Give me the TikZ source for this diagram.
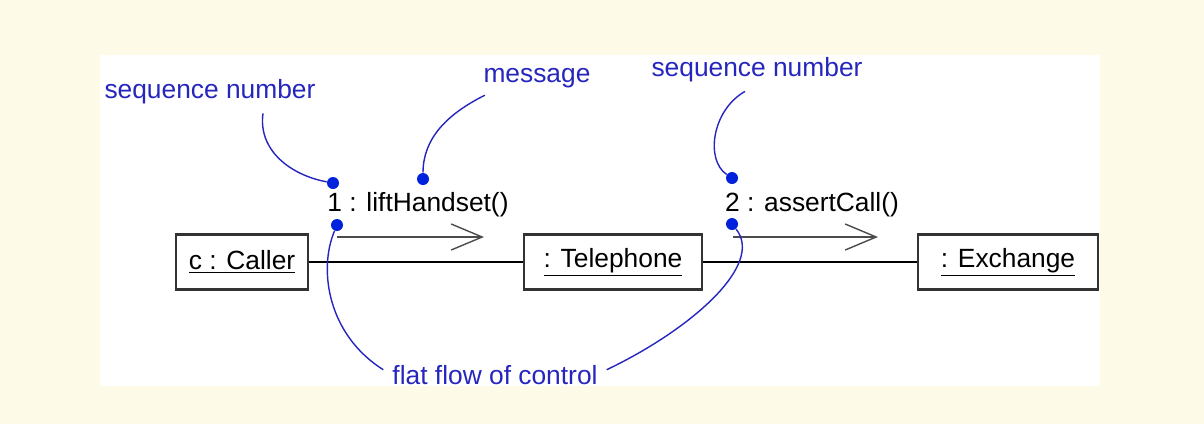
\documentclass[tikz,border=0pt]{standalone}
\usepackage{fontspec}
\setmainfont{Liberation Sans}
\usepackage{tikz}
\usepackage{xcolor}
\usetikzlibrary{arrows.meta}
\definecolor{cream}{RGB}{254,250,232}
\definecolor{notecol}{RGB}{38,38,190}
\definecolor{dotcol}{RGB}{0,34,221}
\newcommand{\objname}[1]{\raisebox{-3pt}{\underline{#1}}}
\tikzset{
    object-box/.style = {draw=black!80, fill=white, line width=1.3pt, rectangle, minimum height=1.1cm, font=\fontsize{15}{18}\selectfont},
    msg-text/.style = {font=\fontsize{15}{18}\selectfont, inner sep=1pt},
    msg-arrow/.style = {draw=black!70, line width=0.7pt, -{Straight Barb[length=0.62cm,width=0.52cm,line width=0.8pt]}},
    note-text/.style = {text=notecol, font=\fontsize{15}{18}\selectfont, inner sep=1pt},
    note-dot/.style = {circle, fill=dotcol, inner sep=0pt, minimum size=0.24cm},
    note-line/.style = {draw=notecol, line width=0.8pt},
}

\begin{document}
\begin{tikzpicture}[x=0.02cm, y=-0.02cm]
\fill[cream] (0,0) rectangle (1204,424);
\fill[white] (100,55) rectangle (1100,386);
\useasboundingbox (0,0) rectangle (1204,424);

% objects and links
\node[object-box, minimum width=2.64cm] (caller) at (242,262) {\objname{c : Caller}};
\node[object-box, minimum width=3.56cm] (phone) at (613,262) {\objname{: Telephone}};
\node[object-box, minimum width=3.6cm] (exchange) at (1008,262) {\objname{: Exchange}};
\draw[line width=0.8pt] (caller) -- (phone);
\draw[line width=0.8pt] (phone) -- (exchange);

% messages
\node[msg-text] (lift) at (418,205) {1 : liftHandset()};
\node[msg-text] (assert) at (812,205) {2 : assertCall()};
\coordinate (lift-from) at (337,237);
\coordinate (lift-to) at (484,237);
\coordinate (assert-from) at (733,237);
\coordinate (assert-to) at (878,237);
\draw[msg-arrow] (lift-from) -- (lift-to);
\draw[msg-arrow] (assert-from) -- (assert-to);

% notes
\node[note-text] (seq-note-a) at (210,92) {sequence number};
\node[note-text] (msg-note) at (537,78) {message};
\node[note-text] (seq-note-b) at (757,70) {sequence number};
\node[note-text] (flow-note) at (495,375) {flat flow of control};

\node[note-dot] (seq-dot-a) at (333,183) {};
\node[note-dot] (msg-dot) at (423,179) {};
\node[note-dot] (flow-dot-a) at (337,225) {};
\node[note-dot] (seq-dot-b) at (732,178) {};
\node[note-dot] (flow-dot-b) at (732,224) {};

\draw[note-line] ([xshift=1.06cm,yshift=-4pt]seq-note-a.south) .. controls (258,150) and (290,175) .. (seq-dot-a);
\draw[note-line] ([xshift=2pt,yshift=-3pt]msg-note.south west) .. controls (445,115) and (423,140) .. (msg-dot);
\draw[note-line] ([xshift=-0.24cm,yshift=-4pt]seq-note-b.south) .. controls (712,110) and (705,160) .. (seq-dot-b);
\draw[note-line] (flow-dot-a) .. controls (318,270) and (328,335) .. ([xshift=-4pt,yshift=3pt]flow-note.west);
\draw[note-line] ([xshift=4pt,yshift=3pt]flow-note.east) .. controls (690,330) and (765,265) .. (flow-dot-b);
\end{tikzpicture}
\end{document}
